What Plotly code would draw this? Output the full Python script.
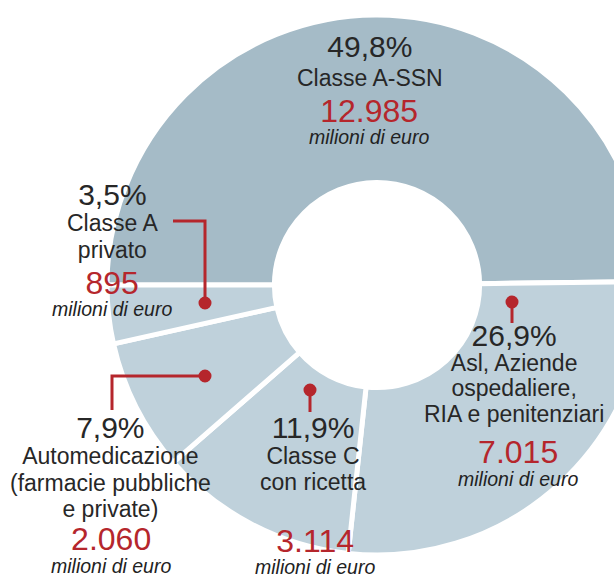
import plotly.graph_objects as go

# ---- data (clockwise from 9 o'clock) ----
categories = ["Classe A-SSN", "Asl, Aziende ospedaliere, RIA e penitenziari",
              "Classe C con ricetta", "Automedicazione (farmacie pubbliche e private)",
              "Classe A privato"]
shares = [49.8, 26.9, 11.9, 7.9, 3.5]
pct_labels = ["49,8%", "26,9%", "11,9%", "7,9%", "3,5%"]
label_lines = [["Classe A-SSN"],
               ["Asl, Aziende", "ospedaliere,", "RIA e penitenziari"],
               ["Classe C", "con ricetta"],
               ["Automedicazione", "(farmacie pubbliche", "e private)"],
               ["Classe A", "privato"]]
value_labels = ["12.985", "7.015", "3.114", "2.060", "895"]
unit_label = "milioni di euro"

# ---- layout constants (pixels) ----
W, H = 650, 578
DARK = "#272727"
RED = "#b5262c"
TOP_COL = "#a5bbc7"
LOW_COL = "#bfd1db"
FONT = "Liberation Sans, Arial, sans-serif"
PCT_SIZE, LAB_SIZE, VAL_SIZE, UNIT_SIZE = 30, 23, 32, 19.5
ASC, DESC = 0.905, 0.212


def px(x):
    return x / W


def py(y):
    return 1 - y / H


fig = go.Figure()
fig.add_trace(go.Pie(
    values=shares,
    labels=categories,
    sort=False,
    direction="clockwise",
    rotation=-90,
    hole=0.38,
    marker=dict(colors=[TOP_COL, LOW_COL, LOW_COL, LOW_COL, LOW_COL],
                line=dict(color="white", width=5)),
    textinfo="none",
    hoverinfo="label+value",
    showlegend=False,
    domain=dict(x=[px(107), px(647)], y=[py(555), py(15)]),
))

# text block layout: x centres and vertical centres of each line
blocks = [
    dict(x=370, xv=369, ypct=47, ylab=[78], yval=111, yunit=137),
    dict(x=514, xv=518, ypct=338, ylab=[363, 388, 413], yval=452, yunit=479),
    dict(x=313, xv=315, ypct=427, ylab=[457, 481], yval=541, yunit=567),
    dict(x=110, xv=111, ypct=427, ylab=[457, 484, 508], yval=539, yunit=566),
    dict(x=112, xv=112, ypct=195, ylab=[225, 250], yval=284, yunit=308),
]

ann = []


def add_group(x, lines):
    """lines: list of (text, size, color, italic, y_centre). One annotation, uniform spacing."""
    base = [yc + (ASC - DESC) / 2 * s for (_, s, _, _, yc) in lines]
    n = len(lines)
    mi = (n - 1) / 2
    mb = sum(base) / n
    slope = sum((i - mi) * (b - mb) for i, b in enumerate(base)) / sum((i - mi) ** 2 for i in range(n))
    # keep line boxes from overlapping
    need = max(DESC * lines[k][1] + ASC * lines[k + 1][1] for k in range(n - 1)) - 2.0
    slope = max(slope, need)
    b0 = mb - mi * slope
    top = b0 - ASC * lines[0][1]
    bottom = b0 + (n - 1) * slope + DESC * lines[-1][1]
    parts = []
    for text, s, col, it, _ in lines:
        st = f"font-size:{s}px;color:{col}"
        if it:
            st += ";font-style:italic"
        parts.append(f'<span style="{st}">{text}</span>')
    ann.append(dict(x=px(x), y=py((top + bottom) / 2), xref="paper", yref="paper",
                    text="<br>".join(parts), showarrow=False,
                    xanchor="center", yanchor="middle", align="center",
                    font=dict(family=FONT, size=slope / 1.3, color=DARK)))


for i, b in enumerate(blocks):
    g1 = [(pct_labels[i], PCT_SIZE, DARK, False, b["ypct"])]
    g1 += [(t, LAB_SIZE, DARK, False, y) for t, y in zip(label_lines[i], b["ylab"])]
    add_group(b["x"], g1)
    g2 = [(value_labels[i], VAL_SIZE, RED, False, b["yval"]),
          (unit_label, UNIT_SIZE, "#222222", True, b["yunit"])]
    add_group(b["xv"], g2)

# connector lines with dots
connectors = [
    [(173, 221), (205, 221), (205, 303)],
    [(205, 376), (112, 376), (112, 410)],
    [(310, 390), (310, 412)],
    [(512, 302), (512, 323)],
]
dots = [(205, 303), (205, 376), (310, 390), (512, 302)]

shapes = []
for pts in connectors:
    path = "M " + " L ".join(f"{px(x)},{py(y)}" for x, y in pts)
    shapes.append(dict(type="path", path=path, xref="paper", yref="paper",
                       line=dict(color=RED, width=3)))
r = 6.5
for x, y in dots:
    shapes.append(dict(type="circle", xref="paper", yref="paper",
                       x0=px(x - r), x1=px(x + r), y0=py(y + r), y1=py(y - r),
                       fillcolor=RED, line=dict(width=0)))

fig.update_layout(
    width=W, height=H,
    margin=dict(l=0, r=0, t=0, b=0),
    paper_bgcolor="white", plot_bgcolor="white",
    annotations=ann, shapes=shapes,
)

fig.write_html("out.html",
               post_script="document.documentElement.style.overflow='hidden';document.body.style.overflow='hidden';")
